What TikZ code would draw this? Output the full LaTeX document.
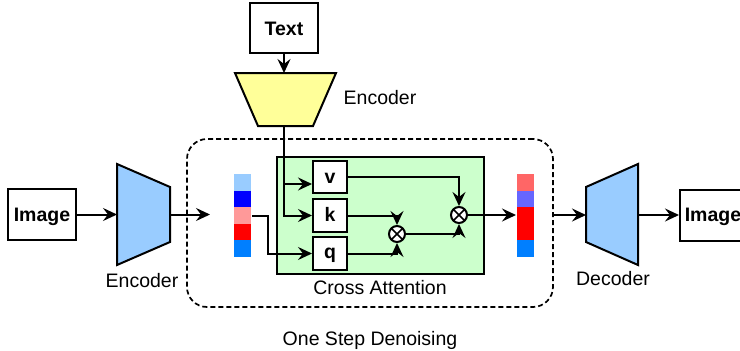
\documentclass[tikz,border=0pt]{standalone}
\usepackage{fontspec}
\setmainfont{Liberation Sans}
\usetikzlibrary{arrows.meta,calc}

\definecolor{trapblue}{HTML}{99CCFF}
\definecolor{trapyellow}{HTML}{FFFF99}
\definecolor{attgreen}{HTML}{CCFFCC}
\definecolor{cellA}{HTML}{99CCFF}
\definecolor{cellB}{HTML}{0000FF}
\definecolor{cellC}{HTML}{FF9999}
\definecolor{cellD}{HTML}{FF0000}
\definecolor{cellE}{HTML}{007FFF}
\definecolor{cellF}{HTML}{FF6666}
\definecolor{cellG}{HTML}{6666FF}

\begin{document}
\begin{tikzpicture}[x=1pt,y=-1pt,line width=2pt,
  arr/.style={-{Stealth[length=14pt,width=13pt,inset=5pt]}},
  lbl/.style={font=\fontsize{19.5}{22}\selectfont,inner sep=0pt},
  blbl/.style={font=\fontsize{19.5}{22}\selectfont\bfseries,inner sep=0pt},
  sqbox/.style={draw,fill=white,inner sep=0pt,minimum width=#1},
  cell/.style={inner sep=0pt,minimum width=17pt,minimum height=16.6pt,fill=#1},
  mult/.style={draw,fill=white,circle,inner sep=0pt,minimum size=16pt,
    path picture={\draw[line width=1.6pt]
      (path picture bounding box.north west) -- (path picture bounding box.south east)
      (path picture bounding box.north east) -- (path picture bounding box.south west);}}
]
\useasboundingbox (0,0) rectangle (740,351);
\clip (0,0) rectangle (740,351);

% outer dashed block
\node[draw,line width=1.7pt,dash pattern=on 5pt off 3pt,rounded corners=20pt,inner sep=0pt,
  minimum width=366pt,minimum height=168pt] (step) at (370,223) {};
\node[lbl,anchor=base] (steplbl) at (370,345) {One Step Denoising};

% image input and its encoder
\node[sqbox=68pt,minimum height=51pt] (imgL) at (42,214.5) {};
\node[blbl,anchor=base] (imgLt) at (42,221) {Image};
\coordinate (encA) at (117,164);
\coordinate (encB) at (170,187);
\coordinate (encC) at (170,242);
\coordinate (encD) at (117,265);
\coordinate (encIn) at (117,214.5);
\coordinate (encOut) at (170,214.5);
\filldraw[fill=trapblue] (encA) -- (encB) -- (encC) -- (encD) -- cycle;
\node[lbl] (encLlbl) at (142,281) {Encoder};
\draw[arr] (imgL.east) -- (encIn);
\coordinate (inTip) at (210,214.5);
\draw[arr] (encOut) -- (inTip);

% text input and its encoder
\node[sqbox=68pt,minimum height=50pt] (txt) at (284,28) {};
\node[blbl,anchor=base] (txtt) at (284,35) {Text};
\coordinate (tencA) at (235,73);
\coordinate (tencB) at (336,73);
\coordinate (tencC) at (313,126);
\coordinate (tencD) at (258,126);
\coordinate (tencIn) at (284,73);
\coordinate (tencOut) at (284,126);
\filldraw[fill=trapyellow] (tencA) -- (tencB) -- (tencC) -- (tencD) -- cycle;
\node[lbl] (tenclbl) at (380,98) {Encoder};
\draw[arr] (txt.south) -- (tencIn);

% input latent vector
\node[cell=cellA] (in1) at (242.5,182.3) {};
\node[cell=cellB] (in2) at (242.5,198.9) {};
\node[cell=cellC] (in3) at (242.5,215.5) {};
\node[cell=cellD] (in4) at (242.5,232.1) {};
\node[cell=cellE] (in5) at (242.5,248.7) {};

% cross attention block
\node[draw,fill=attgreen,inner sep=0pt,minimum width=207pt,minimum height=117pt] (att) at (380.5,215.5) {};
\node[lbl] (attlbl) at (380,288) {Cross Attention};
\node[sqbox=34pt,minimum height=32pt] (v) at (330,177) {};
\node[sqbox=34pt,minimum height=33pt] (k) at (330,215.5) {};
\node[sqbox=34pt,minimum height=33pt] (q) at (330,253.5) {};
\node[blbl,anchor=base] (vt) at (330,183) {v};
\node[blbl,anchor=base] (kt) at (330,221.5) {k};
\node[blbl,anchor=base] (qt) at (330,258.5) {q};
\node[mult] (m1) at (397,234) {};
\node[mult] (m2) at (459,215) {};

% text features feed keys and values
\coordinate (vbranch) at (284,184);
\draw[arr] (tencOut) |- (k.west);
\draw[arr] (vbranch) -- (vbranch -| v.west);
% latent feeds queries
\draw[arr] (in3.east) -- ++(16,0) |- (q.west);
% attention products
\draw[arr] (k.east) -| (m1.north);
\draw[arr] (q.east) -| (m1.south);
\draw[arr] (v.east) -| (m2.north);
\draw[arr] (m1.east) -| (m2.south);

% output latent vector
\node[cell=cellF] (out1) at (525.5,182.3) {};
\node[cell=cellG] (out2) at (525.5,198.9) {};
\node[inner sep=0pt,minimum width=17pt,minimum height=33.2pt,fill=cellD] (out3) at (525.5,224) {};
\node[cell=cellE] (out4) at (525.5,248.7) {};
\draw[arr] (m2.east) -- (m2.east -| out3.west);

% decoder and reconstructed image
\coordinate (decA) at (586,187);
\coordinate (decB) at (638,164);
\coordinate (decC) at (638,265);
\coordinate (decD) at (586,242);
\coordinate (decIn) at (586,215);
\coordinate (decOut) at (638,215);
\filldraw[fill=trapblue] (decA) -- (decB) -- (decC) -- (decD) -- cycle;
\node[lbl] (declbl) at (613,279) {Decoder};
\draw[arr] (step.east |- decIn) -- (decIn);
\node[sqbox=68pt,minimum height=51pt] (imgR) at (714,215) {};
\node[blbl,anchor=base] (imgRt) at (713,221) {Image};
\draw[arr] (decOut) -- (decOut -| imgR.west);
\end{tikzpicture}
\end{document}
